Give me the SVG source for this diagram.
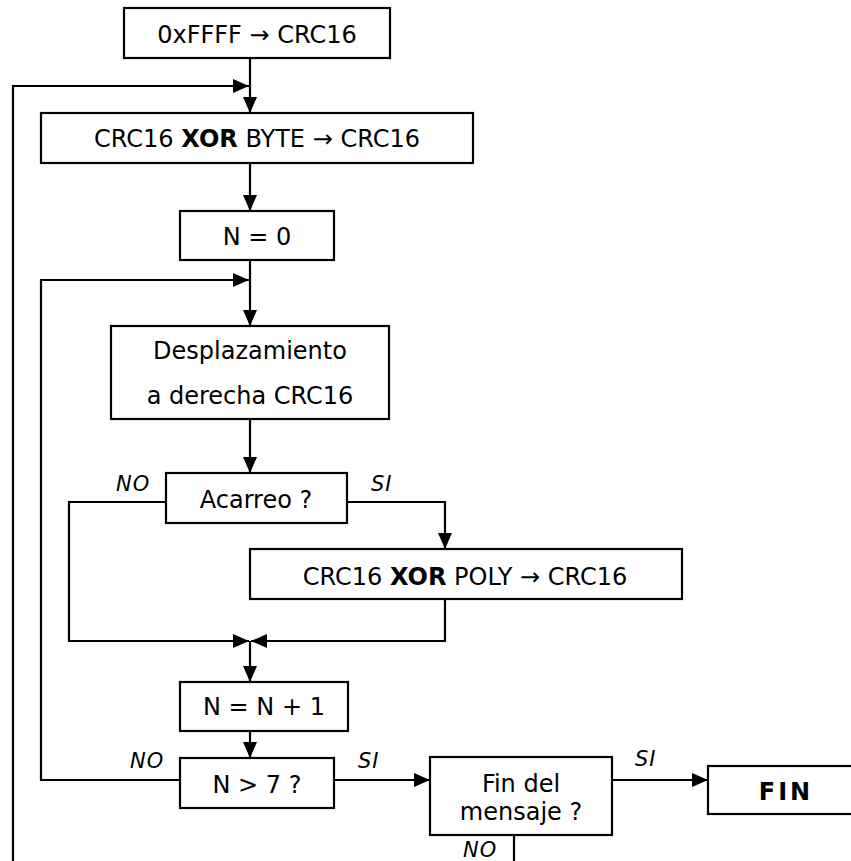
<svg xmlns="http://www.w3.org/2000/svg" width="851" height="861" viewBox="0 0 851 861">
<style>
.box{fill:#fff;stroke:#000;stroke-width:2.2}
.t{font-family:"DejaVu Sans","Verdana",sans-serif;font-size:24px;fill:#000;text-anchor:middle}
.b{font-weight:bold}
.lbl{font-family:"DejaVu Sans","Verdana",sans-serif;font-size:21px;font-style:italic;fill:#000;letter-spacing:1px}
.c{fill:none;stroke:#000;stroke-width:2.2}
</style>
<defs>
<marker id="ah" viewBox="0 0 16 14" refX="16" refY="7" markerWidth="16" markerHeight="14" markerUnits="userSpaceOnUse" orient="auto">
<path d="M0,0 L16,7 L0,14 z" fill="#000"/>
</marker>
</defs>
<rect width="851" height="861" fill="#fff"/>
<g id="connectors">
<path class="c" d="M250,58 V113" marker-end="url(#ah)"/>
<path class="c" d="M13,861 V86 H249" marker-end="url(#ah)"/>
<path class="c" d="M250,163 V211" marker-end="url(#ah)"/>
<path class="c" d="M250,260 V326" marker-end="url(#ah)"/>
<path class="c" d="M180,780 H41 V280 H249" marker-end="url(#ah)"/>
<path class="c" d="M250,419 V473" marker-end="url(#ah)"/>
<path class="c" d="M166,502 H69 V641 H249" marker-end="url(#ah)"/>
<path class="c" d="M347,502 H445 V549" marker-end="url(#ah)"/>
<path class="c" d="M445,599 V641 H251" marker-end="url(#ah)"/>
<path class="c" d="M250,641 V682" marker-end="url(#ah)"/>
<path class="c" d="M250,731 V758" marker-end="url(#ah)"/>
<path class="c" d="M334,780 H430" marker-end="url(#ah)"/>
<path class="c" d="M612,780 H708" marker-end="url(#ah)"/>
<path class="c" d="M514,835 V861"/>
</g>
<g id="labels">
<text class="lbl" x="116" y="491">NO</text>
<text class="lbl" x="371" y="491">SI</text>
<text class="lbl" x="130" y="768">NO</text>
<text class="lbl" x="358" y="768">SI</text>
<text class="lbl" x="635" y="766">SI</text>
<text class="lbl" x="463" y="857">NO</text>
</g>
<g id="init">
<rect class="box" x="124" y="8" width="266" height="50"/>
<text class="t" x="257" y="43">0xFFFF → CRC16</text>
</g>
<g id="xorbyte">
<rect class="box" x="41" y="113" width="432" height="50"/>
<text class="t" x="257" y="147">CRC16 <tspan class="b">XOR</tspan> BYTE → CRC16</text>
</g>
<g id="n0">
<rect class="box" x="180" y="211" width="154" height="49"/>
<text class="t" x="257" y="245">N = 0</text>
</g>
<g id="shift">
<rect class="box" x="111" y="326" width="278" height="93"/>
<text class="t" x="250" y="359">Desplazamiento</text>
<text class="t" x="250" y="404">a derecha CRC16</text>
</g>
<g id="carry">
<rect class="box" x="166" y="473" width="181" height="50"/>
<text class="t" x="256" y="508">Acarreo ?</text>
</g>
<g id="xorpoly">
<rect class="box" x="250" y="549" width="432" height="50"/>
<text class="t" x="465" y="585">CRC16 <tspan class="b">XOR</tspan> POLY → CRC16</text>
</g>
<g id="ninc">
<rect class="box" x="180" y="682" width="168" height="49"/>
<text class="t" x="264" y="715">N = N + 1</text>
</g>
<g id="ngt7">
<rect class="box" x="180" y="758" width="154" height="50"/>
<text class="t" x="257" y="793">N &gt; 7 ?</text>
</g>
<g id="finmsg">
<rect class="box" x="430" y="757" width="182" height="78"/>
<text class="t" x="521" y="792">Fin del</text>
<text class="t" x="521" y="820">mensaje ?</text>
</g>
<g id="fin">
<rect class="box" x="708" y="766" width="150" height="48"/>
<text class="t b" x="786" y="800" style="letter-spacing:3px">FIN</text>
</g>
</svg>
